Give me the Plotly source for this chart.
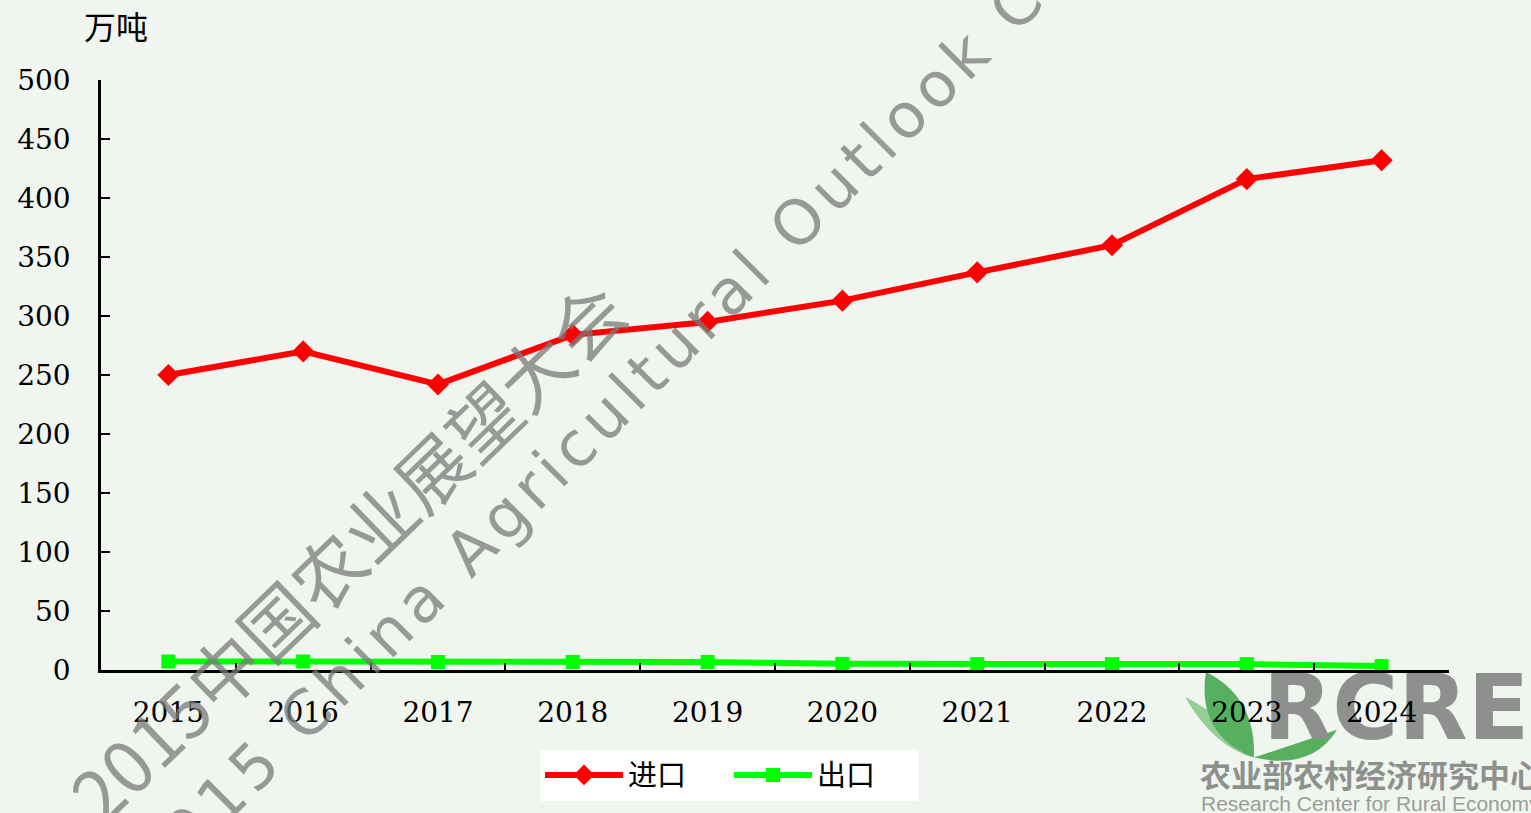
import plotly.graph_objects as go

years = ["2015", "2016", "2017", "2018", "2019", "2020", "2021", "2022", "2023", "2024"]
imports = [250, 270, 242, 284, 295, 313, 337, 360, 416, 432]
exports = [7.2, 7.2, 6.8, 6.8, 6.8, 5.2, 5.0, 5.0, 5.0, 3.3]
y_ticks = [0, 50, 100, 150, 200, 250, 300, 350, 400, 450, 500]
unit_label = "万吨"
series_names = ["进口", "出口"]

W, H = 1531, 813
L, R, T, B = 101, 1449, 80, 673


def px(x):
    return (x - L) / (R - L)


def py(y):
    return (B - y) / (B - T)


BG = "#f0f5f0"
SERIF = "DejaVu Serif"
CJK = "Noto Sans CJK SC"
WM = "rgba(120,122,120,0.75)"
HAIR = "\u200a"

fig = go.Figure()
fig.add_trace(go.Scatter(
    x=years, y=imports, name=series_names[0], mode="lines+markers",
    line=dict(color="#ff0000", width=6),
    marker=dict(symbol="diamond", size=17, color="#ff0000"),
))
fig.add_trace(go.Scatter(
    x=years, y=exports, name=series_names[1], mode="lines+markers",
    line=dict(color="#00ff00", width=6),
    marker=dict(symbol="square", size=14, color="#00ff00"),
))

shapes = []
leaf_dark = "rgb(86,176,96)"
leaf_light = "rgb(150,205,150)"


def path(cmds):
    out = []
    for tok in cmds:
        if isinstance(tok, str):
            out.append(tok)
        else:
            out.append(f"{px(tok[0]):.5f},{py(tok[1]):.5f}")
    return " ".join(out)


shapes.append(dict(type="path", xref="paper", yref="paper", layer="below",
                   path=path(["M", (1185, 700), "Q", (1212, 748), (1252, 761),
                              "Q", (1228, 722), (1185, 700), "Z"]),
                   fillcolor=leaf_light, line=dict(width=0)))
shapes.append(dict(type="path", xref="paper", yref="paper", layer="below",
                   path=path(["M", (1206, 675), "Q", (1256, 700), (1254, 761),
                              "Q", (1196, 738), (1206, 675), "Z"]),
                   fillcolor=leaf_dark, line=dict(width=0)))
shapes.append(dict(type="path", xref="paper", yref="paper", layer="below",
                   path=path(["M", (1254, 761), "Q", (1312, 774), (1337, 733),
                              "Q", (1290, 749), (1254, 761), "Z"]),
                   fillcolor=leaf_dark, line=dict(width=0)))
shapes.append(dict(type="rect", xref="paper", yref="paper", layer="below",
                   x0=px(1260), x1=px(1700), y0=py(740), y1=py(670),
                   line=dict(width=0), fillcolor="rgba(0,0,0,0)",
                   label=dict(text="<b>RCRE</b>", textposition="middle left",
                              font=dict(family="DejaVu Sans", size=90, color="#8e908e"),
                              padding=0)))
shapes.append(dict(type="rect", xref="paper", yref="paper", layer="below",
                   x0=px(1197), x1=px(1700), y0=py(798), y1=py(766),
                   line=dict(width=0), fillcolor="rgba(0,0,0,0)",
                   label=dict(text="<b>农业部农村经济研究中心</b>", textposition="middle left",
                              font=dict(family=CJK, size=31, color="#8e908e"),
                              padding=0)))
shapes.append(dict(type="rect", xref="paper", yref="paper", layer="below",
                   x0=px(1198), x1=px(1700), y0=py(814), y1=py(796),
                   line=dict(width=0), fillcolor="rgba(0,0,0,0)",
                   label=dict(text="Research Center for Rural Economy", textposition="middle left",
                              font=dict(family="Liberation Sans", size=21, color="#9a9c9a"),
                              padding=0)))

wm2 = HAIR.join("2015 China Agricultural Outlook Conference")

annotations = [
    dict(text=unit_label, xref="paper", yref="paper", x=px(116), y=py(25),
         xanchor="center", yanchor="middle", showarrow=False,
         font=dict(family=CJK, size=32, color="#000000")),
    dict(text="2015中国农业展望大会", xref="paper", yref="paper",
         x=px(346), y=py(552), xanchor="center", yanchor="middle",
         textangle=-44, showarrow=False,
         font=dict(family=CJK, size=72, color=WM)),
    dict(text=wm2, xref="paper", yref="paper",
         x=px(717), y=py(305), xanchor="center", yanchor="middle",
         textangle=-45, showarrow=False,
         font=dict(family="DejaVu Sans", size=62, color=WM)),
]

fig.update_layout(
    width=W, height=H,
    margin=dict(l=L, r=W - R, t=T, b=H - B, pad=0),
    paper_bgcolor=BG, plot_bgcolor=BG,
    showlegend=True,
    legend=dict(orientation="h", x=px(540), y=py(753), xanchor="left", yanchor="top",
                bgcolor="#ffffff", font=dict(family=CJK, size=29, color="#000000"),
                itemwidth=78, entrywidth=96, traceorder="normal"),
    shapes=shapes,
    annotations=annotations,
    xaxis=dict(type="category", range=[-0.5, 9.5], showgrid=False, zeroline=False,
               showline=True, linecolor="#000000", linewidth=2.5,
               ticks="inside", tickson="boundaries", ticklen=7, tickwidth=2, tickcolor="#000000",
               tickfont=dict(family=SERIF, size=28, color="#000000"),
               ticklabelstandoff=16),
    yaxis=dict(range=[0, 500], tickvals=y_ticks, showgrid=False, zeroline=False,
               showline=True, linecolor="#000000", linewidth=2.5,
               ticks="inside", ticklen=9, tickwidth=2, tickcolor="#000000",
               tickfont=dict(family=SERIF, size=28, color="#000000"),
               ticklabelstandoff=22),
)

fig.write_html("out.html", config={"displayModeBar": False},
               post_script="document.body.style.margin='0';document.body.style.overflow='hidden';")
